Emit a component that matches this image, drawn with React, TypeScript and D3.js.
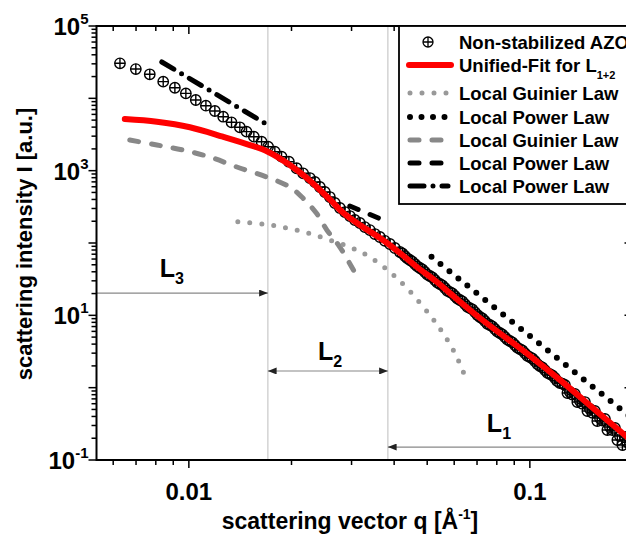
import React from 'react';
import * as d3 from 'd3';

const width = 626;
const height = 536;
const font = '"Liberation Sans", Arial, sans-serif';

// Non-stabilized AZO, measured points (q in 1/Å, I in a.u.)
const dataQ = [
  0.00628, 0.00699, 0.00768, 0.00841, 0.0091, 0.0098, 0.01048, 0.01122, 0.01192, 0.01261,
  0.01334, 0.01411, 0.01476, 0.01551, 0.01634, 0.01708, 0.01787, 0.0187, 0.01965, 0.0207,
  0.02164, 0.02264, 0.02342, 0.02422, 0.02505, 0.02591, 0.0268, 0.02773, 0.02868, 0.02966,
  0.03068, 0.03173, 0.03282, 0.03395, 0.03512, 0.03632, 0.03757, 0.03886, 0.04019, 0.04158,
  0.043, 0.04448, 0.04601, 0.04759, 0.04922, 0.05091, 0.05266, 0.05447, 0.05634, 0.05828,
  0.06028, 0.06235, 0.06449, 0.0667, 0.069, 0.07137, 0.07379, 0.07633, 0.07895, 0.08166,
  0.08447, 0.08737, 0.09036, 0.09348, 0.09667, 0.1, 0.1034, 0.107, 0.1107, 0.1145,
  0.1184, 0.1225, 0.1267, 0.131, 0.1355, 0.1402, 0.145, 0.15, 0.1551, 0.1605,
  0.166, 0.1717, 0.1776, 0.1837, 0.19, 0.1965,
  0.1289, 0.1378, 0.1475, 0.1577, 0.1688, 0.1806, 0.1868,
  0.04229, 0.04373, 0.04524, 0.04679, 0.0484, 0.05006, 0.05178, 0.05356, 0.0554, 0.0573,
  0.05927, 0.06131, 0.06341, 0.06559, 0.06784, 0.07018, 0.07259, 0.07505, 0.07763, 0.0803,
  0.08305, 0.08591, 0.08886, 0.0919, 0.09507, 0.09832, 0.1017, 0.1052, 0.1088, 0.1126,
  0.1164, 0.1204, 0.1246, 0.1332, 0.1426, 0.1526, 0.1632, 0.1746, 0.1932,
];
const dataI = [
  30500, 25400, 21500, 17000, 14000, 11700, 9480, 7910, 6680, 5570,
  4660, 3980, 3460, 2950, 2510, 2140, 1830, 1560, 1330, 1080,
  919, 791, 697, 595, 507, 432, 357, 305, 268, 236,
  208, 189, 166, 151, 133, 121, 107, 96.8, 85.3, 75.1,
  66.1, 58.2, 51.2, 45.1, 39.7, 35.0, 30.8, 27.1, 23.9, 21.0,
  18.5, 16.3, 14.3, 12.6, 11.1, 9.48, 8.35, 7.35, 6.47, 5.7,
  5.02, 4.42, 3.89, 3.42, 3.01, 2.65, 2.34, 1.99, 1.75, 1.54,
  1.36, 1.16, 1.09, 0.871, 0.817, 0.654, 0.633, 0.507, 0.476, 0.38,
  0.369, 0.286, 0.277, 0.215, 0.208, 0.166,
  0.843, 0.633, 0.476, 0.346, 0.26, 0.189, 0.161,
  71.8, 61.4, 55.3, 47.4, 43.0, 36.6, 33.4, 28.3, 25.9, 21.9,
  20.1, 17.0, 15.6, 13.1, 12.1, 10.1, 9.05, 7.66, 7.02, 5.95,
  5.44, 4.62, 4.23, 3.58, 3.27, 2.76, 2.53, 2.12, 1.91, 1.6,
  1.48, 1.23, 1.14, 0.8, 0.6, 0.45, 0.35, 0.26, 0.175,
];

// Unified-Fit for L1+2
const fitQ = [0.00649, 0.00806, 0.01007, 0.01258, 0.0151, 0.01705, 0.01978, 0.02218, 0.02591, 0.02829, 0.03174, 0.03707, 0.04158, 0.04662, 0.05339, 0.05826, 0.07135, 0.102, 0.1225, 0.1604, 0.1991];
const fitI = [5180, 4750, 3980, 2950, 2260, 1830, 1200, 791, 400, 264, 177, 110, 72.7, 46.6, 28.9, 20.3, 9.18, 2.57, 1.28, 0.432, 0.183];

// Local Guinier law (dotted, level 1)
const guinier1Q = [0.01392, 0.01648, 0.01938, 0.02234, 0.0259, 0.03006, 0.03396, 0.03886, 0.04358, 0.05089, 0.05557, 0.06026, 0.0649];
const guinier1I = [197, 183, 161, 137, 110, 85.3, 64.0, 39.7, 23.9, 10.1, 5.7, 3.01, 1.36];

// Local Guinier law (dashed, level 2)
const guinier2Q = [0.00671, 0.00806, 0.0096, 0.01152, 0.01383, 0.01693, 0.01978, 0.02159, 0.02368, 0.0254, 0.02772, 0.03131];
const guinier2I = [2655, 2263, 1930, 1545, 1124, 817, 594, 419, 257, 151, 88.0, 32.8];

// Local power laws
const power1Q = [0.05148, 0.2];
const power1I = [64.6, 0.372];
const power2Q = [0.02965, 0.03707];
const power2I = [325, 208];
const power3Q = [0.00833, 0.01705];
const power3I = [31800, 4280];

// region boundaries and annotation arrows
const boundQ = [0.01705, 0.03834];
const arrowI = [20.3, 1.7, 0.151];
const regionLabels = ['3', '2', '1'];
const regionLabelQ = [0.00822, 0.0239, 0.0748];
const regionLabelI = [33.9, 2.41, 0.244];

const legendLabels = [
  'Non-stabilized AZO',
  'Unified-Fit for L',
  'Local Guinier Law',
  'Local Power Law',
  'Local Guinier Law',
  'Local Power Law',
  'Local Power Law',
];

const yLabelExps = [-1, 1, 3, 5];
const xLabelVals = [0.01, 0.1];

const zip = (a: number[], b: number[]) => a.map((v, i) => [v, b[i]] as [number, number]);

const styles = {
  fit: { stroke: '#ff0000', strokeWidth: 6, strokeDasharray: undefined, linecap: 'round' },
  g1: { stroke: '#999999', strokeWidth: 5, strokeDasharray: '0 12', linecap: 'round' },
  p1: { stroke: '#000000', strokeWidth: 6, strokeDasharray: '0 11.5', linecap: 'round' },
  g2: { stroke: '#888888', strokeWidth: 5, strokeDasharray: '9 13', linecap: 'round' },
  p2: { stroke: '#000000', strokeWidth: 5, strokeDasharray: '9 13', linecap: 'round' },
  p3: { stroke: '#000000', strokeWidth: 5, strokeDasharray: '14 9 0 9', linecap: 'round' },
};

export default function App() {
  const x = d3.scaleLog().domain([0.00536, 0.2]).range([96.5, 632.5]);
  const y = d3.scaleLog().domain([0.1, 1e5]).range([460, 26]);
  const [x0, x1] = x.range();
  const [yb, yt] = y.range();

  const straight = d3.line<[number, number]>().x((d) => x(d[0])).y((d) => y(d[1]));
  const smooth = d3.line<[number, number]>().x((d) => x(d[0])).y((d) => y(d[1])).curve(d3.curveCatmullRom.alpha(0.5));

  const isMajor = (v: number) => Math.abs(Math.log10(v) - Math.round(Math.log10(v))) < 1e-6;

  const curve = (d: string | null, s: any, key: string) => (
    <path key={key} d={d || ''} fill="none" stroke={s.stroke} strokeWidth={s.strokeWidth}
      strokeDasharray={s.strokeDasharray} strokeLinecap={s.linecap} strokeLinejoin="round" />
  );

  const legendY = [42, 65, 93, 117, 140, 163, 186];
  const legendKeys = ['data', 'fit', 'g1', 'p1', 'g2', 'p2', 'p3'];

  return (
    <svg width={width} height={height} style={{ position: 'absolute', left: 0, top: 0, background: '#fff' }}
      fontFamily={font} fontWeight="bold">
      <defs>
        <marker id="ah" viewBox="0 0 10 8" refX="10" refY="4" markerWidth="10" markerHeight="7"
          markerUnits="userSpaceOnUse" orient="auto-start-reverse">
          <path d="M0,0L10,4L0,8z" fill="#222" />
        </marker>
      </defs>

      {/* region boundaries */}
      {boundQ.map((q) => (
        <line key={q} x1={x(q)} x2={x(q)} y1={yt} y2={yb} stroke="#c8c8c8" strokeWidth={1.2} />
      ))}

      {/* region arrows */}
      <line x1={x0} x2={x(boundQ[0])} y1={y(arrowI[0])} y2={y(arrowI[0])} stroke="#888" strokeWidth={1.2} markerEnd="url(#ah)" />
      <line x1={x(boundQ[0])} x2={x(boundQ[1])} y1={y(arrowI[1])} y2={y(arrowI[1])} stroke="#888" strokeWidth={1.2} markerStart="url(#ah)" markerEnd="url(#ah)" />
      <line x1={x(boundQ[1])} x2={x1} y1={y(arrowI[2])} y2={y(arrowI[2])} stroke="#888" strokeWidth={1.2} markerStart="url(#ah)" />

      {regionLabels.map((s, i) => (
        <text key={s} x={x(regionLabelQ[i])} y={y(regionLabelI[i])} fontSize={25}>
          L<tspan dy={7} fontSize={16}>{s}</tspan>
        </text>
      ))}

      {/* measured data */}
      {zip(dataQ, dataI).map(([q, v], i) => (
        <g key={i} transform={`translate(${x(q)},${y(v)})`} fill="none" stroke="#000" strokeWidth={1.4}>
          <circle r={5.2} />
          <path d="M-5.2,0H5.2M0,-5.2V5.2" />
        </g>
      ))}

      {curve(smooth(zip(guinier2Q, guinier2I)), styles.g2, 'g2')}
      {curve(smooth(zip(guinier1Q, guinier1I)), styles.g1, 'g1')}
      {curve(smooth(zip(fitQ, fitI)), styles.fit, 'fit')}
      {curve(straight(zip(power1Q, power1I)), styles.p1, 'p1')}
      {curve(straight(zip(power2Q, power2I)), styles.p2, 'p2')}
      {curve(straight(zip(power3Q, power3I)), styles.p3, 'p3')}

      {/* frame */}
      <rect x={x0} y={yt} width={x1 - x0} height={yb - yt} fill="none" stroke="#000" strokeWidth={2} />

      {/* x ticks */}
      {x.ticks().map((v) => {
        const len = isMajor(v) ? 8 : 5;
        return (
          <g key={v}>
            <line x1={x(v)} x2={x(v)} y1={yb} y2={yb + len} stroke="#000" strokeWidth={1.5} />
            <line x1={x(v)} x2={x(v)} y1={yt} y2={yt + len} stroke="#000" strokeWidth={1.5} />
          </g>
        );
      })}
      {xLabelVals.map((v) => (
        <text key={v} x={x(v)} y={yb + 40} fontSize={24} textAnchor="middle">{String(v)}</text>
      ))}

      {/* y ticks */}
      {y.ticks().map((v) => {
        const len = isMajor(v) ? 8 : 5;
        return (
          <g key={v}>
            <line x1={x0 - len} x2={x0} y1={y(v)} y2={y(v)} stroke="#000" strokeWidth={1.5} />
            <line x1={x1 - len} x2={x1} y1={y(v)} y2={y(v)} stroke="#000" strokeWidth={1.5} />
          </g>
        );
      })}
      {yLabelExps.map((e) => (
        <text key={e} x={x0 - 8} y={y(Math.pow(10, e)) + 9} fontSize={24} textAnchor="end">
          10<tspan dy={-11} fontSize={15}>{String(e)}</tspan>
        </text>
      ))}

      {/* axis titles */}
      <text x={350} y={529} fontSize={23} textAnchor="middle">
        scattering vector q [Å<tspan dy={-10} fontSize={14}>-1</tspan><tspan dy={10}>]</tspan>
      </text>
      <text transform="translate(32,244) rotate(-90)" fontSize={22} textAnchor="middle">
        scattering intensity I [a.u.]
      </text>

      {/* legend */}
      <rect x={399} y={yt} width={300} height={178} fill="#fff" stroke="#000" strokeWidth={1.8} />
      {legendKeys.map((k, i) => {
        const cy = legendY[i];
        let sample: React.ReactNode;
        if (k === 'data') {
          sample = (
            <g transform={`translate(428,${cy})`} fill="none" stroke="#000" strokeWidth={1.3}>
              <circle r={5} />
              <path d="M-5,0H5M0,-5V5" />
            </g>
          );
        } else {
          const s = (styles as any)[k];
          sample = curve(`M${k === 'fit' ? 409 : 410},${cy}H${k === 'fit' ? 451 : 448}`, s, k);
        }
        return (
          <g key={k}>
            {sample}
            <text x={459} y={cy + 6.5} fontSize={18.5}>
              {legendLabels[i]}
              {k === 'fit' && <tspan dy={7} fontSize={11}>1+2</tspan>}
            </text>
          </g>
        );
      })}
    </svg>
  );
}
